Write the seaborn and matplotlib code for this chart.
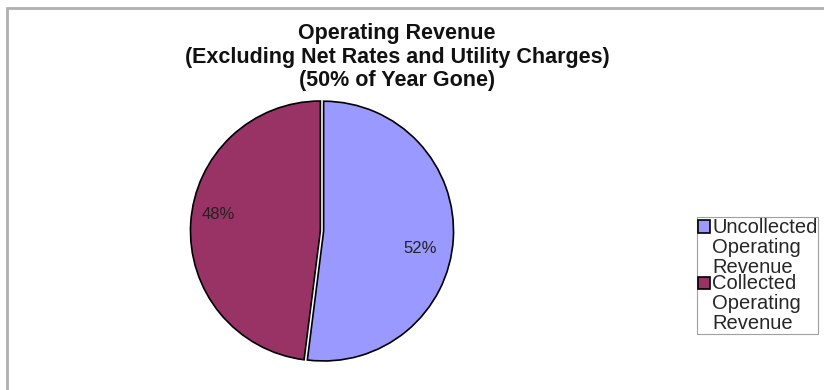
import matplotlib
matplotlib.use("Agg")
import matplotlib.pyplot as plt
from matplotlib.patches import Rectangle
from matplotlib.legend_handler import HandlerPatch
import seaborn as sns

categories = ["Uncollected\nOperating\nRevenue", "Collected\nOperating\nRevenue"]
values = [52, 48]
colors = ["#9999FF", "#993366"]
title_lines = ["Operating Revenue", "(Excluding Net Rates and Utility Charges)", "(50% of Year Gone)"]

sns.set_theme(style="white")
plt.rcParams['font.family'] = ['Liberation Sans', 'DejaVu Sans']

W, H = 824, 390
fig = plt.figure(figsize=(W / 100, H / 100), dpi=100)
fig.patch.set_facecolor("white")

# outer chart frame
fig.add_artist(Rectangle((7.5 / W, -0.1), 2, 1.1 - 8.5 / H, transform=fig.transFigure,
                         fill=False, edgecolor="#B0B0B0", linewidth=2.0))

# pie axes: center ~ (322, 231), radius ~ 130
r = 136
cx, cy = 322, 231
ax = fig.add_axes([(cx - r) / W, (H - cy - r) / H, 2 * r / W, 2 * r / H])
wedges, texts, autotexts = ax.pie(
    values, colors=colors, startangle=90, counterclock=False,
    explode=[0.012, 0.012], radius=0.955,
    autopct=lambda p: f"{p:.0f}%", pctdistance=0.75,
    wedgeprops=dict(edgecolor="black", linewidth=1.2),
    textprops=dict(fontsize=12, color="#222222"))
ax.set_xlim(-1, 1)
ax.set_ylim(-1, 1)
ax.set_aspect("equal")
autotexts[0].set_position((0.72, -0.13))
autotexts[1].set_position((-0.76, 0.12))

fig.text(397 / W, 1 - 57 / H, "\n".join(title_lines), ha="center", va="center",
         fontsize=15.5, fontweight="bold", linespacing=1.15, color="#111111")

LEG_FS = 14.5
LINE_PT = 15.2  # one legend text line in points


def top_square(legend, orig_handle, xdescent, ydescent, width, height, fontsize):
    s = height
    return Rectangle((-xdescent, -ydescent + LINE_PT), s, s)


leg = fig.legend(wedges, categories, loc="upper left",
                 bbox_to_anchor=(697 / W, 1 - 217 / H), fontsize=LEG_FS,
                 frameon=True, fancybox=False, edgecolor="#888888",
                 handlelength=0.55, handleheight=0.55, handletextpad=0.15,
                 borderpad=0.05, labelspacing=-0.12, borderaxespad=0,
                 handler_map={matplotlib.patches.Wedge: HandlerPatch(patch_func=top_square)})
for t in leg.get_texts():
    t.set_linespacing(1.05)
leg.get_frame().set_linewidth(0.8)

fig.savefig("out.png", dpi=100)
